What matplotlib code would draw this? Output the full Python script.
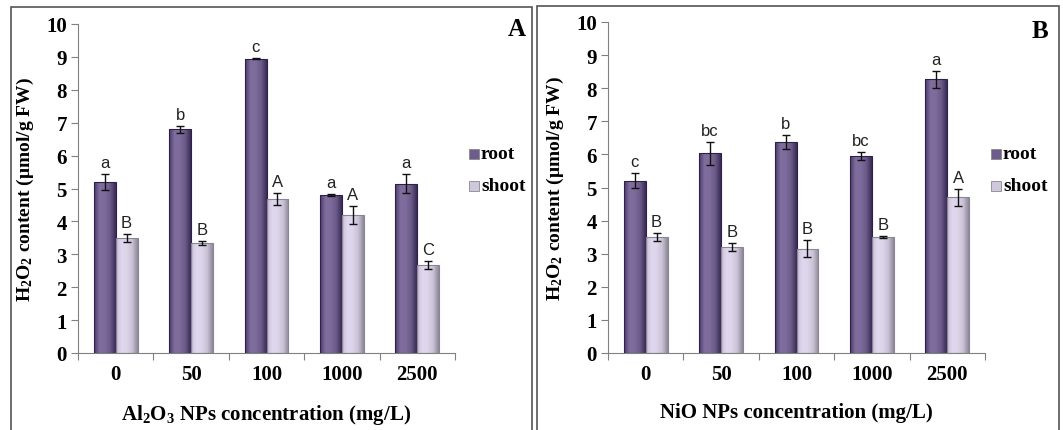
import numpy as np
import matplotlib.pyplot as plt
from matplotlib.colors import LinearSegmentedColormap
from matplotlib.patches import Rectangle

plt.rcParams['font.family'] = ['Liberation Serif', 'DejaVu Serif']
plt.rcParams['mathtext.fontset'] = 'custom'
plt.rcParams['mathtext.rm'] = 'Liberation Serif:bold'
plt.rcParams['mathtext.default'] = 'rm'

conc = ['0', '50', '100', '1000', '2500']

# panel A: Al2O3
al_root = [5.2, 6.8, 8.95, 4.8, 5.15]
al_root_err = [0.25, 0.1, 0.02, 0.02, 0.28]
al_shoot = [3.5, 3.35, 4.68, 4.2, 2.68]
al_shoot_err = [0.13, 0.06, 0.17, 0.28, 0.13]
al_root_let = ['a', 'b', 'c', 'a', 'a']
al_shoot_let = ['B', 'B', 'A', 'A', 'C']

# panel B: NiO
ni_root = [5.2, 6.03, 6.38, 5.95, 8.27]
ni_root_err = [0.23, 0.35, 0.22, 0.12, 0.25]
ni_shoot = [3.5, 3.2, 3.15, 3.5, 4.7]
ni_shoot_err = [0.12, 0.12, 0.25, 0.03, 0.25]
ni_root_let = ['c', 'bc', 'b', 'bc', 'a']
ni_shoot_let = ['B', 'B', 'B', 'B', 'A']

root_cmap = LinearSegmentedColormap.from_list('r', ['#4b3b6b', '#7f6e9e', '#7d6c9b', '#6a5a88', '#3a2a55'])
shoot_cmap = LinearSegmentedColormap.from_list('s', ['#c9c0d8', '#e0d8ee', '#ddd4ea', '#c8c0d4', '#8e8898'])

fig = plt.figure(figsize=(10.63, 4.31), dpi=100)

# panel frames
fig.add_artist(Rectangle((11/1063, -0.05), 521/1063, 1.05 - 8/431, transform=fig.transFigure,
                         fill=False, ec='#555555', lw=1.2))
fig.add_artist(Rectangle((537/1063, -0.05), 522/1063, 1.05 - 7/431, transform=fig.transFigure,
                         fill=False, ec='#555555', lw=1.2))

grad = np.linspace(0, 1, 64).reshape(1, -1)


def shaded_bars(ax, x, h, cmap, edge):
    bars = ax.bar(x, h, width=0.29, color='none', edgecolor=edge, lw=0.8, zorder=3)
    for b in bars:
        x0 = b.get_x()
        im = ax.imshow(grad, cmap=cmap, extent=[x0, x0 + b.get_width(), 0, b.get_height()],
                       aspect='auto', zorder=2)
        im.set_clip_path(b)
    return bars


def panel(ax, root, rerr, shoot, serr, rlet, slet, xlabel):
    x = np.arange(len(conc))
    xr = x - 0.145
    xs = x + 0.145
    shaded_bars(ax, xr, root, root_cmap, '#2e2148')
    shaded_bars(ax, xs, shoot, shoot_cmap, '#8a8494')
    ax.errorbar(xr, root, yerr=rerr, fmt='none', ecolor='#111111', elinewidth=1, capsize=3, zorder=4)
    ax.errorbar(xs, shoot, yerr=serr, fmt='none', ecolor='#111111', elinewidth=1, capsize=3, zorder=4)
    for i in range(len(conc)):
        ax.text(xr[i], root[i] + rerr[i] + 0.12, rlet[i], ha='center', va='bottom',
                family='Liberation Sans', fontsize=12, color='#222222')
        ax.text(xs[i], shoot[i] + serr[i] + 0.12, slet[i], ha='center', va='bottom',
                family='Liberation Sans', fontsize=12, color='#222222')
    ax.set_xlim(-0.5, 4.5)
    ax.set_ylim(0, 10)
    ax.set_yticks(range(0, 11))
    ax.set_xticks(np.arange(-0.5, 5, 1))
    ax.set_xticklabels([])
    ax.set_xticks(x, minor=True)
    ax.set_xticklabels(conc, minor=True)
    ax.tick_params(axis='x', which='major', length=5, color='#808080')
    ax.tick_params(axis='x', which='minor', length=0, pad=8)
    ax.tick_params(axis='y', length=5, color='#808080', pad=3)
    for lab in ax.get_yticklabels() + ax.get_xticklabels(minor=True):
        lab.set_fontweight('bold')
        lab.set_fontsize(15)
    for s in ['top', 'right']:
        ax.spines[s].set_visible(False)
    for s in ['left', 'bottom']:
        ax.spines[s].set_color('#808080')
    ax.set_ylabel('H$_2$O$_2$ content (μmol/g FW)', fontsize=14, fontweight='bold', labelpad=7)
    ax.set_xlabel(xlabel, fontsize=15, fontweight='bold', labelpad=13)
    return ax


axA = fig.add_axes([78/1063, 1 - 354/431, 377/1063, 329/431])
panel(axA, al_root, al_root_err, al_shoot, al_shoot_err, al_root_let, al_shoot_let,
      'Al$_2$O$_3$ NPs concentration (mg/L)')
axB = fig.add_axes([608/1063, 1 - 354/431, 377/1063, 331/431])
panel(axB, ni_root, ni_root_err, ni_shoot, ni_shoot_err, ni_root_let, ni_shoot_let,
      'NiO NPs concentration (mg/L)')

fig.text(517/1063, 1 - 30/431, 'A', fontsize=18, fontweight='bold', ha='center', va='center')
fig.text(1040/1063, 1 - 32/431, 'B', fontsize=18, fontweight='bold', ha='center', va='center')

for lx in [469/1063, 991/1063]:
    for yy, col, lab in [(1 - 155/431, '#6d5c8c', 'root'), (1 - 187/431, '#cfc7dc', 'shoot')]:
        fig.add_artist(Rectangle((lx, yy - 5/431), 10/1063, 10/431, transform=fig.transFigure,
                                 fc=col, ec='#888888', lw=0.6))
        fig.text(lx + 12/1063, yy, lab, fontsize=14, fontweight='bold', va='center')

fig.savefig('out.png', dpi=100)
